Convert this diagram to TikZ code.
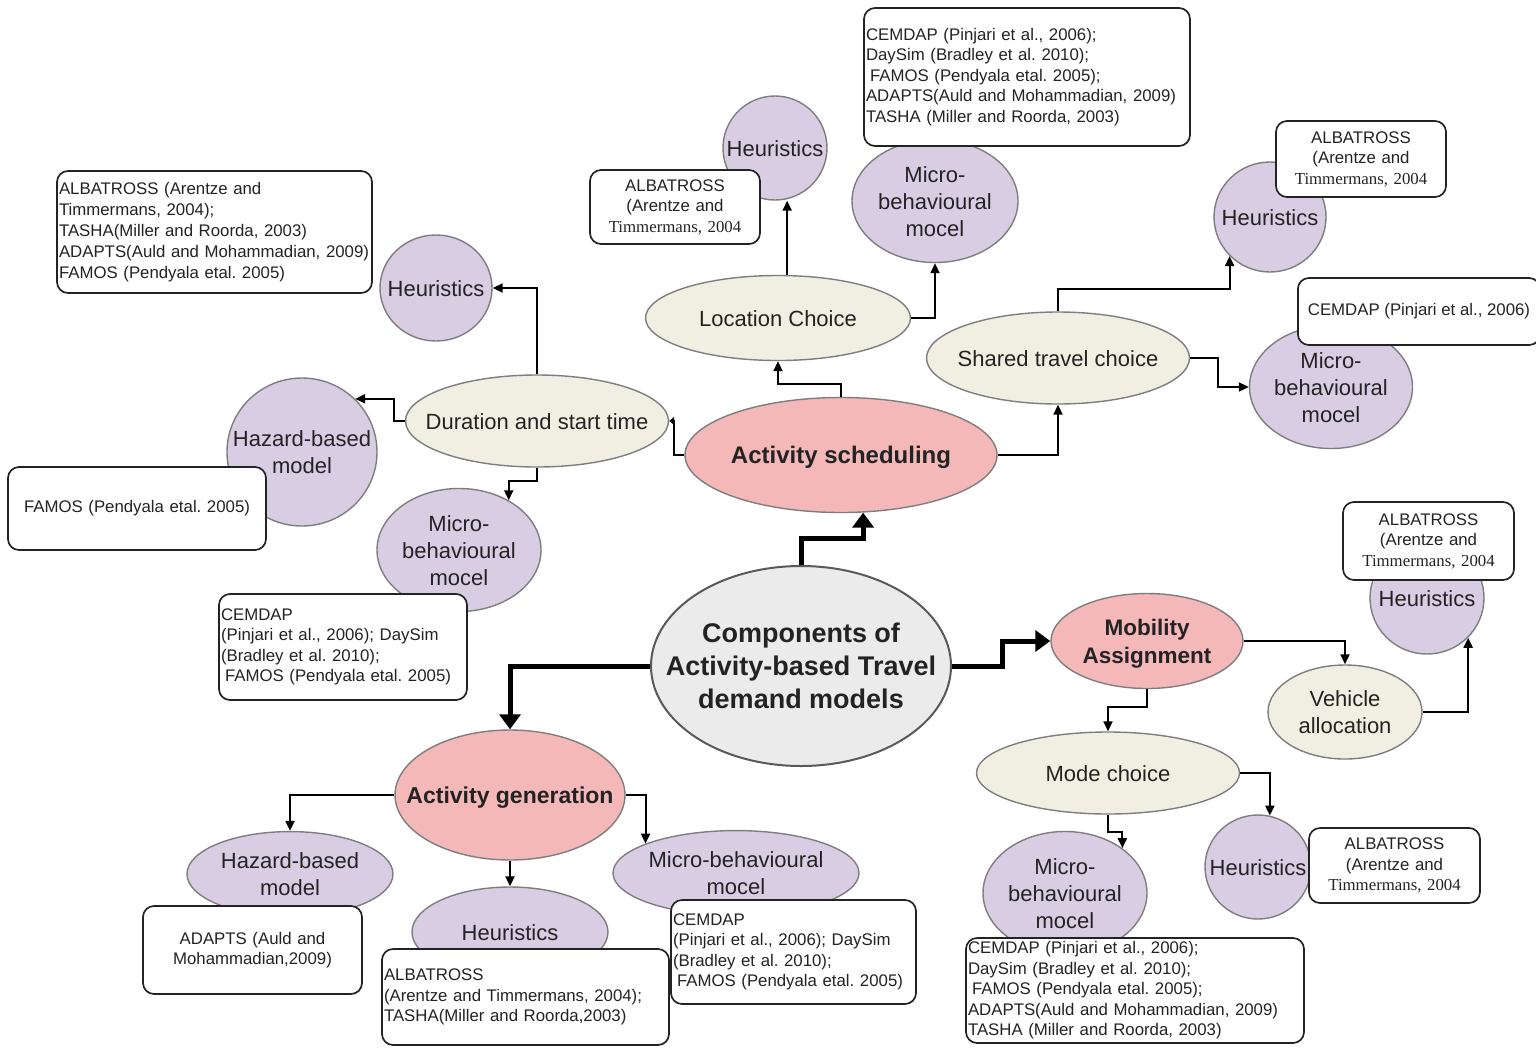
\documentclass[tikz,border=0pt]{standalone}
\usepackage{fontspec}
\setmainfont{Liberation Sans}
\newfontfamily\tnr{Liberation Serif}
\usetikzlibrary{shapes.geometric,arrows.meta}

\definecolor{lav}{HTML}{D9CDE4}
\definecolor{cream}{HTML}{F0EFE1}
\definecolor{rosy}{HTML}{F5B8B8}
\definecolor{pale}{HTML}{EBEBEB}
\definecolor{rim}{HTML}{7E7E7E}
\definecolor{ink}{HTML}{232323}

% zero-width centred block, so that an ellipse keeps its given size;
% the small top skip sets the lines optically on the centre
\newcommand\zw[1]{\makebox[0pt]{\begin{tabular}{@{}c@{}}\noalign{\vskip6pt}#1\end{tabular}}}

\tikzset{
  bub/.style={ellipse, draw=rim, line width=1.4pt, inner sep=0pt, text=ink,
    font=\fontsize{22}{27}\selectfont},
  lavb/.style={bub, fill=lav},
  creamb/.style={bub, fill=cream},
  rosyb/.style={bub, fill=rosy, font=\fontsize{23}{28}\bfseries\selectfont},
  refbox/.style={draw=ink, fill=white, line width=1.7pt, rounded corners=11pt,
    text=ink, font=\fontsize{16.8}{20.5}\selectfont, inner ysep=0pt, inner xsep=2pt},
  arr/.style={line width=2pt, -{Triangle[length=10pt,width=9pt]}},
  smallarr/.style={line width=2pt, -{Triangle[length=5pt,width=8pt]}},
  bigarr/.style={line width=5pt, -{Triangle[length=15pt,width=21pt]}},
}

\begin{document}
\frenchspacing
\begin{tikzpicture}[x=1pt,y=-1pt]
\useasboundingbox (0,0) rectangle (1536,1047);
\fill[white] (0,0) rectangle (1536,1047);

% ---- central topic and the three components
\node[bub, fill=pale, draw=black!65, line width=2pt,
      font=\fontsize{27}{33}\bfseries\selectfont,
      minimum width=300pt, minimum height=200pt] (core) at (801,666)
      {\zw{Components of\\Activity-based Travel\\demand models}};
\node[rosyb, font=\fontsize{24}{29}\bfseries\selectfont,
      minimum width=312pt, minimum height=115pt] (sched) at (841,455) {\zw{Activity scheduling}};
\node[rosyb, minimum width=230pt, minimum height=130pt] (gen) at (510,795) {\zw{Activity generation}};
\node[rosyb, font=\fontsize{22.5}{28}\bfseries\selectfont,
      minimum width=192pt, minimum height=95pt] (mob) at (1147,641) {\zw{Mobility\\Assignment}};

% ---- choice dimensions
\node[creamb, minimum width=265pt, minimum height=85pt] (loc) at (778,318) {\zw{Location Choice}};
\node[creamb, minimum width=263pt, minimum height=92pt] (dur) at (537,421) {\zw{Duration and start time}};
\node[creamb, minimum width=263pt, minimum height=92pt] (shared) at (1058,358) {\zw{Shared travel choice}};
\node[creamb, minimum width=263pt, minimum height=82pt] (mode) at (1108,773) {\zw{Mode choice}};
\node[creamb, minimum width=154pt, minimum height=94pt] (veh) at (1345,712) {\zw{Vehicle\\allocation}};

% ---- modelling approaches
\node[lavb, minimum width=104pt, minimum height=104pt] (heurT) at (775,148) {\zw{Heuristics}};
\node[lavb, minimum width=166pt, minimum height=116pt] (microT) at (935,201) {\zw{Micro-\\behavioural\\mocel}};
\node[lavb, minimum width=112pt, minimum height=106pt] (heurL) at (436,288) {\zw{Heuristics}};
\node[lavb, minimum width=150pt, minimum height=148pt] (hazL) at (302,452) {\zw{Hazard-based\\model}};
\node[lavb, minimum width=164pt, minimum height=120pt] (microL) at (459,550) {\zw{Micro-\\behavioural\\mocel}};
\node[lavb, minimum width=112pt, minimum height=110pt] (heurRT) at (1270,217) {\zw{Heuristics}};
\node[lavb, minimum width=163pt, minimum height=115pt] (microR) at (1331,387) {\zw{Micro-\\behavioural\\mocel}};
\node[lavb, minimum width=114pt, minimum height=112pt] (heurRM) at (1427,598) {\zw{Heuristics}};
\node[lavb, minimum width=106pt, minimum height=104pt] (heurRB) at (1258,867) {\zw{Heuristics}};
\node[lavb, minimum width=164pt, minimum height=122pt] (microRB) at (1065,893) {\zw{Micro-\\behavioural\\mocel}};
\node[lavb, minimum width=206pt, minimum height=82pt] (hazB) at (290,874) {\zw{Hazard-based\\model}};
\node[lavb, minimum width=196pt, minimum height=90pt] (heurB) at (510,932) {\zw{Heuristics}};
\node[lavb, minimum width=246pt, minimum height=82pt] (microB) at (736,873) {\zw{Micro-behavioural\\mocel}};

% ---- connectors
\draw[bigarr] (core.north) -- ++(0,-27) -| (sched.291);
\draw[bigarr] (core.east) -- ++(50,0) |- (mob.west);
\draw[bigarr] (core.west) -| (gen.north);

\draw[arr] (sched.north) -- ++(0,-13) -| (loc.south);
\draw[arr] (loc.78) -- (loc.78 |- heurT.south);
\draw[arr] (loc.east) -| (microT.south);
\draw[smallarr] (sched.west) -- ++(-10,0) |- (dur.east);
\draw[arr] (dur.north) |- (heurL.east);
\draw[arr] (dur.west) -- ++(-11,0) |- (hazL.45);
\draw[arr] (dur.south) -- ++(0,13) -| (microL.45);
\draw[arr] (sched.east) -| (shared.south);
\draw[arr] (shared.north) -- ++(0,-22) -| (heurRT.224);
\draw[arr] (shared.east) -- ++(28,0) |- (microR.west);

\draw[arr] (mob.east) -| (veh.north);
\draw[arr] (veh.east) -| (heurRM.316);
\draw[arr] (mob.south) -- ++(0,18) -| (mode.north);
\draw[arr] (mode.east) -| (heurRB.77);
\draw[arr] (mode.south) -- ++(0,17) -| (microRB.38);

\draw[arr] (gen.west) -| (hazB.north);
\draw[arr] (gen.south) -- (heurB.north);
\draw[arr] (gen.east) -| (microB.162);

% ---- reference boxes
\node[refbox, minimum width=326pt, minimum height=138pt, text width=322pt, align=left]
  (bxTop) at (1027,77)
  {CEMDAP (Pinjari et al., 2006);\\DaySim (Bradley et al. 2010);\\\hspace*{4pt}FAMOS (Pendyala etal. 2005);\\ADAPTS(Auld and Mohammadian, 2009)\\TASHA (Miller and Roorda, 2003)};
\node[refbox, minimum width=315pt, minimum height=122pt, text width=311pt, align=left,
      font=\fontsize{16.8}{21}\selectfont]
  (bxTL) at (214.5,232)
  {ALBATROSS (Arentze and\\Timmermans, 2004);\\TASHA(Miller and Roorda, 2003)\\ADAPTS(Auld and Mohammadian, 2009)\\FAMOS (Pendyala etal. 2005)};
\node[refbox, minimum width=170pt, minimum height=74pt, text width=166pt, align=center]
  (bxT) at (675,207) {ALBATROSS\\(Arentze and\\{\tnr Timmermans, 2004}};
\node[refbox, minimum width=170pt, minimum height=76pt, text width=166pt, align=center]
  (bxRT) at (1361,159) {ALBATROSS\\(Arentze and\\{\tnr Timmermans, 2004}};
\node[refbox, minimum width=242pt, minimum height=67pt, inner xsep=10pt, align=left]
  (bxR) at (1419,311.5) {CEMDAP (Pinjari et al., 2006)};
\node[refbox, minimum width=258pt, minimum height=83pt, text width=254pt, align=center]
  (bxFam) at (137,508.5) {FAMOS (Pendyala etal. 2005)};
\node[refbox, minimum width=248pt, minimum height=106pt, text width=244pt, align=left]
  (bxL) at (343,647)
  {CEMDAP\\(Pinjari et al., 2006); DaySim\\(Bradley et al. 2010);\\\hspace*{4pt}FAMOS (Pendyala etal. 2005)};
\node[refbox, minimum width=171pt, minimum height=78pt, text width=167pt, align=center]
  (bxRM) at (1428.5,541) {ALBATROSS\\(Arentze and\\{\tnr Timmermans, 2004}};
\node[refbox, minimum width=171pt, minimum height=75pt, text width=167pt, align=center]
  (bxRB) at (1394.5,865.5) {ALBATROSS\\(Arentze and\\{\tnr Timmermans, 2004}};
\node[refbox, minimum width=219pt, minimum height=88pt, text width=215pt, align=center]
  (bxAd) at (252.5,950) {ADAPTS (Auld and\\Mohammadian,2009)};
\node[refbox, minimum width=287pt, minimum height=96pt, text width=283pt, align=left]
  (bxB) at (525.5,997)
  {ALBATROSS\\(Arentze and Timmermans, 2004);\\TASHA(Miller and Roorda,2003)};
\node[refbox, minimum width=245pt, minimum height=104pt, text width=241pt, align=left]
  (bxMB) at (793.5,952)
  {CEMDAP\\(Pinjari et al., 2006); DaySim\\(Bradley et al. 2010);\\\hspace*{4pt}FAMOS (Pendyala etal. 2005)};
\node[refbox, minimum width=338pt, minimum height=105pt, text width=334pt, align=left]
  (bxRB2) at (1135,990.5)
  {CEMDAP (Pinjari et al., 2006);\\DaySim (Bradley et al. 2010);\\\hspace*{4pt}FAMOS (Pendyala etal. 2005);\\ADAPTS(Auld and Mohammadian, 2009)\\TASHA (Miller and Roorda, 2003)};
\end{tikzpicture}
\end{document}
